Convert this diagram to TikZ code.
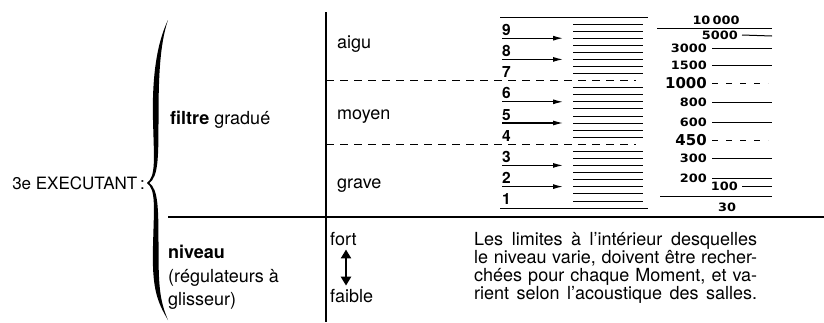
\documentclass[tikz,border=0pt]{standalone}
\usepackage{fontspec}
\setmainfont{TeX Gyre Heros}
\newfontfamily\scalefont{DejaVu Sans}
\usetikzlibrary{arrows.meta}

\tikzset{
  txt/.style={anchor=base west, inner sep=0pt, font=\fontsize{18}{18}\selectfont},
  digit/.style={anchor=base west, inner sep=0pt, font=\fontsize{15.5}{15.5}\selectfont\bfseries},
  freq/.style={anchor=east, inner sep=0pt, font=\fontsize{11.5}{11.5}\scalefont\bfseries},
  bigfreq/.style={anchor=east, inner sep=0pt, font=\fontsize{15}{15}\scalefont\bfseries},
  rule/.style={line width=1.5pt},
  tick/.style={line width=1pt},
  dashline/.style={line width=1pt, dash pattern=on 8pt off 6pt},
  fdash/.style={line width=1pt, dash pattern=on 6pt off 8pt},
  band/.style={-{Latex[length=10pt,width=5pt]}, line width=1.1pt},
}
\newcommand{\widefig}[1]{\scalebox{1.12}[1]{#1}}

\begin{document}
\begin{tikzpicture}[x=1pt, y=-1pt]
  \useasboundingbox (0,0) rectangle (824,322);

  % frame
  \coordinate (vtop) at (326,12);
  \coordinate (vbot) at (326,322);
  \coordinate (hleft) at (168,217);
  \coordinate (hright) at (824,217);
  \draw[rule] (vtop) -- (vbot);
  \draw[rule] (hleft) -- (hright);

  % brace
  \fill (168,20) .. controls (156,45) and (152,80) .. (153,120)
    .. controls (154,160) and (156,176) .. (147,183)
    .. controls (156,190) and (154,206) .. (153,246)
    .. controls (152,286) and (156,300) .. (168,320)
    .. controls (159.5,300) and (158.5,286) .. (158.5,246)
    .. controls (158.5,206) and (158,190) .. (149.5,183)
    .. controls (158,176) and (158.5,160) .. (158.5,120)
    .. controls (158.5,80) and (159.5,45) .. (168,20) -- cycle;

  % left labels
  \node[txt, anchor=base east, font=\fontsize{17}{18}\selectfont] (exec) at (145,189) {3e EXECUTANT\,:};
  \node[txt] (filtre) at (170,124) {\textbf{filtre} gradué};
  \node[txt] (niveau) at (168,258) {\textbf{niveau}};
  \node[txt] (regul) at (168,282) {(régulateurs à};
  \node[txt] (gliss) at (168,305) {glisseur)};

  % registers
  \node[txt] (aigu) at (337,48) {aigu};
  \node[txt] (moyen) at (337,119) {moyen};
  \node[txt] (grave) at (337,188) {grave};

  % band scale
  \coordinate (top0) at (500,17);
  \coordinate (top1) at (648,17);
  \coordinate (bot0) at (500,208);
  \coordinate (bot1) at (648,208);
  \draw[tick] (top0) -- (top1);
  \draw[tick] (bot0) -- (bot1);
  \foreach \k in {1,2,4,5,7,8} {
    \coordinate (a\k) at (502,{17+21.2*\k});
    \coordinate (b\k) at (563,{17+21.2*\k});
    \draw[band] (a\k) -- (b\k);
  }
  \foreach \k in {3,6} {
    \coordinate (d\k) at (326,{17+21.2*\k});
    \coordinate (e\k) at (636,{17+21.2*\k});
    \draw[dashline] (d\k) -- (e\k);
  }
  \foreach \n in {1,...,9} {
    \node[digit] (n\n) at (502,{17+21.2*(10-\n)-3}) {\n};
  }
  \foreach \i in {0,...,25} {
    \ifnum\i=8\else\ifnum\i=17\else
      \draw[tick] (573,{24+7.08*\i}) -- (643,{24+7.08*\i});
    \fi\fi
  }

  % frequencies
  \node[freq, anchor=center] (f10000) at (716,20) {\widefig{10\,000}};
  \draw[tick] (657,28) -- (772,28);
  \node[freq] (f5000) at (738,35) {\widefig{5000}};
  \draw[tick] ([xshift=4pt]f5000.east) -- (772,36);
  \foreach \y/\f in {48/3000, 65/1500, 102/800, 122/600, 158/300, 178/200} {
    \node[freq] (f\f) at (707,\y) {\widefig{\f}};
    \draw[tick] ([xshift=5pt]f\f.east) -- (772,\y);
  }
  \foreach \y/\f in {83/1000, 140/450} {
    \node[bigfreq] (f\f) at (707,\y) {\f};
    \draw[fdash] ([xshift=5pt]f\f.east) -- (768,\y);
  }
  \node[freq] (f100) at (738,186) {\widefig{100}};
  \draw[tick] ([xshift=4pt]f100.east) -- (772,186);
  \draw[tick] (660,196) -- (772,196);
  \node[freq, anchor=center] (f30) at (727,207) {\widefig{30}};

  % level
  \node[txt] (fort) at (330,245) {fort};
  \node[txt] (faible) at (330,302) {faible};
  \draw[{Triangle[length=9pt,width=10pt]}-{Triangle[length=9pt,width=10pt]}, line width=2.8pt]
    ([xshift=16pt,yshift=-4pt]fort.south west) -- ([xshift=16pt,yshift=3pt]faible.north west);

  \node[txt, anchor=north west, align=left] (note) at (474,232)
    {\makebox[283pt][s]{Les limites à l'intérieur desquelles}\\
     \makebox[283pt][s]{le niveau varie, doivent être recher-}\\
     \makebox[283pt][s]{chées pour chaque Moment, et va-}\\
     \makebox[283pt][s]{rient selon l'acoustique des salles.}};
\end{tikzpicture}
\end{document}
